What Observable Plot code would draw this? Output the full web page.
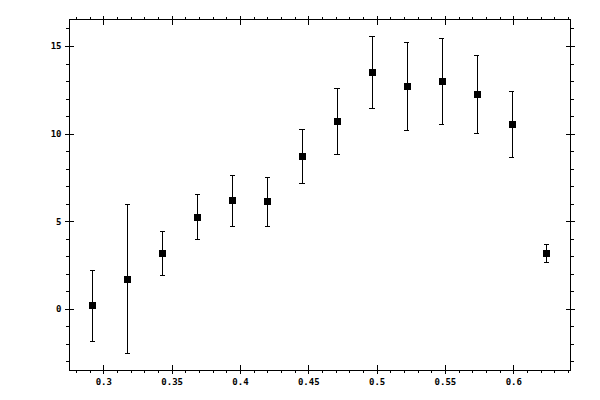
<!DOCTYPE html>
<html>
<head>
<meta charset="utf-8">
<script src="https://cdn.jsdelivr.net/npm/d3@7"></script>
<script src="https://cdn.jsdelivr.net/npm/@observablehq/plot@0.6"></script>
<style>
  html, body { margin: 0; padding: 0; background: #fff; }
  #chart svg { display: block; }
  #chart svg line, #chart svg path, #chart svg rect { shape-rendering: crispEdges; }
</style>
</head>
<body>
<div id="chart"></div>
<script>
const xs = [0.292, 0.3176, 0.3431, 0.3687, 0.3943, 0.4199, 0.4454, 0.471, 0.4966, 0.5221, 0.5477, 0.5733, 0.5988, 0.6242];
const ys = [0.21, 1.69, 3.18, 5.23, 6.20, 6.14, 8.71, 10.71, 13.50, 12.70, 12.99, 12.25, 10.54, 3.18];
const hi = [2.21, 5.97, 4.43, 6.54, 7.66, 7.51, 10.29, 12.59, 15.59, 15.21, 15.44, 14.47, 12.42, 3.69];
const lo = [-1.84, -2.53, 1.92, 3.98, 4.72, 4.72, 7.17, 8.82, 11.45, 10.21, 10.54, 10.02, 8.65, 2.66];

const xMajor = [0.3, 0.35, 0.4, 0.45, 0.5, 0.55, 0.6];
const yMajor = [0, 5, 10, 15];
const xMinor = d3.range(28, 65).map(d => d / 100);
const yMinor = d3.range(-3, 17);
const xDomain = [0.2749, 0.6415];
const yDomain = [-3.49, 16.54];

const data = xs.map((x, i) => ({x, y: ys[i], lo: lo[i], hi: hi[i]}));
const capHalf = 0.0019;
const font = "DejaVu Sans Mono, monospace";

const plot = Plot.plot({
  width: 600,
  height: 400,
  marginLeft: 69,
  marginRight: 30,
  marginTop: 19,
  marginBottom: 30,
  style: {fontFamily: font, fontSize: "9px", fontWeight: "bold", color: "black", background: "white"},
  x: {domain: xDomain, label: null},
  y: {domain: yDomain, label: null},
  marks: [
    Plot.frame({stroke: "black"}),
    // minor ticks (outward)
    Plot.axisX({anchor: "bottom", ticks: xMinor, tickSize: 3, tickFormat: () => "", label: null}),
    Plot.axisX({anchor: "top", ticks: xMinor, tickSize: 3, tickFormat: () => "", label: null}),
    Plot.axisY({anchor: "left", ticks: yMinor, tickSize: 3, tickFormat: () => "", label: null}),
    Plot.axisY({anchor: "right", ticks: yMinor, tickSize: 3, tickFormat: () => "", label: null}),
    // major ticks (crossing)
    Plot.axisX({anchor: "bottom", ticks: xMajor, tickSize: 9, dy: -5, tickFormat: () => "", label: null}),
    Plot.axisX({anchor: "top", ticks: xMajor, tickSize: 9, dy: 5, tickFormat: () => "", label: null}),
    Plot.axisY({anchor: "left", ticks: yMajor, tickSize: 9, dx: 5, tickFormat: () => "", label: null}),
    Plot.axisY({anchor: "right", ticks: yMajor, tickSize: 9, dx: -5, tickFormat: () => "", label: null}),
    // labels
    Plot.axisX({anchor: "bottom", ticks: xMajor, tickSize: 0, tickPadding: 8, tickFormat: d => String(d), label: null}),
    Plot.axisY({anchor: "left", ticks: yMajor, tickSize: 0, tickPadding: 8, tickFormat: d => String(d), label: null}),
    // error bars
    Plot.ruleX(data, {x: "x", y1: "lo", y2: "hi", stroke: "black", strokeWidth: 1}),
    Plot.ruleY(data, {y: "hi", x1: d => d.x - capHalf, x2: d => d.x + capHalf, stroke: "black"}),
    Plot.ruleY(data, {y: "lo", x1: d => d.x - capHalf, x2: d => d.x + capHalf, stroke: "black"}),
    Plot.dot(data, {x: "x", y: "y", symbol: "square", r: 3.95, fill: "black", stroke: "none"})
  ]
});
document.getElementById("chart").appendChild(plot);
</script>
</body>
</html>
